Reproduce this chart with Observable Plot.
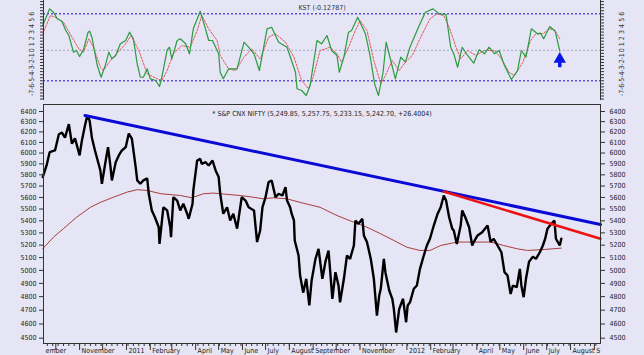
<!DOCTYPE html>
<html><head><meta charset="utf-8">
<script src="https://cdn.jsdelivr.net/npm/d3@7"></script>
<script src="https://cdn.jsdelivr.net/npm/@observablehq/plot@0.6"></script>
<style>
body{margin:0;background:#e5e5f6;}
#chart{width:644px;height:355px;background:#e5e5f6;overflow:hidden}
svg{display:block}
</style></head><body><div id="chart"></div>
<script>
// ---- KST panel data ----
const kstDates = ["2010-09-14","2010-09-23","2010-09-28","2010-10-03","2010-10-09","2010-10-14","2010-10-18","2010-10-24","2010-10-28","2010-11-01","2010-11-06","2010-11-12","2010-11-14","2010-11-17","2010-11-24","2010-11-29","2010-12-05","2010-12-09","2010-12-13","2010-12-18","2010-12-24","2010-12-31","2011-01-05","2011-01-10","2011-01-15","2011-01-19","2011-01-23","2011-01-28","2011-02-01","2011-02-08","2011-02-13","2011-02-16","2011-02-23","2011-02-26","2011-03-01","2011-03-08","2011-03-12","2011-03-19","2011-03-24","2011-03-29","2011-04-07","2011-04-12","2011-04-18","2011-04-23","2011-05-01","2011-05-03","2011-05-07","2011-05-14","2011-05-25","2011-06-03","2011-06-09","2011-06-16","2011-06-23","2011-07-03","2011-07-09","2011-07-18","2011-07-29","2011-08-09","2011-08-11","2011-08-17","2011-08-23","2011-08-28","2011-09-06","2011-09-12","2011-09-19","2011-09-25","2011-10-02","2011-10-05","2011-10-11","2011-10-17","2011-10-21","2011-10-29","2011-11-01","2011-11-08","2011-11-14","2011-11-20","2011-11-25","2011-12-01","2011-12-05","2011-12-11","2011-12-17","2011-12-24","2011-12-30","2012-01-05","2012-01-16","2012-01-25","2012-02-04","2012-02-12","2012-02-21","2012-02-27","2012-03-02","2012-03-07","2012-03-13","2012-03-20","2012-03-28","2012-04-04","2012-04-11","2012-04-17","2012-04-24","2012-04-30","2012-05-07","2012-05-16","2012-05-24","2012-05-29","2012-06-04","2012-06-11","2012-06-19","2012-06-23","2012-06-27","2012-07-05","2012-07-12","2012-07-18"];
const kstValues = [4.07,6.81,6.26,5.17,4.78,3.25,2.43,-0.31,-0.03,-1.02,0.08,2.97,3.14,2.15,-2.50,-4.42,-2.22,-0.31,-1.40,-0.85,1.07,1.61,2.97,1.89,-2.22,-4.42,-4.42,-3.04,-4.68,-4.96,-5.94,-4.42,0.08,0.51,-1.40,1.61,1.89,1.07,-0.57,3.53,6.42,4.35,1.61,1.61,-0.57,-3.60,-4.68,-3.04,-3.04,1.33,0.51,-0.57,-3.32,3.53,3.79,1.33,0.51,-3.60,-6.32,-6.60,-7.42,-5.78,1.61,1.07,2.43,-0.03,-0.85,-3.60,-1.13,2.97,3.25,5.44,4.61,2.71,-0.85,-5.50,-7.42,-3.60,1.33,-1.67,-4.68,-1.13,-1.95,0.51,3.79,6.26,6.81,5.99,5.88,0.51,-0.57,-2.78,0.51,-0.85,-2.12,0.08,-0.57,0.51,-0.57,-0.03,-2.50,-4.79,-3.32,-0.03,-1.13,3.53,2.71,2.81,1.89,3.91,3.14,-0.13];
const signalDates = ["2010-09-14","2010-09-24","2010-09-30","2010-10-11","2010-10-22","2010-10-31","2010-11-06","2010-11-13","2010-11-19","2010-11-28","2010-12-02","2010-12-11","2010-12-19","2010-12-31","2011-01-07","2011-01-17","2011-01-28","2011-02-10","2011-02-16","2011-02-23","2011-03-03","2011-03-14","2011-03-25","2011-04-03","2011-04-09","2011-04-18","2011-04-29","2011-05-03","2011-05-14","2011-05-23","2011-06-03","2011-06-13","2011-06-24","2011-07-05","2011-07-14","2011-07-27","2011-08-07","2011-08-17","2011-08-26","2011-09-01","2011-09-10","2011-09-23","2011-10-02","2011-10-08","2011-10-17","2011-10-26","2011-11-01","2011-11-10","2011-11-19","2011-11-28","2011-12-04","2011-12-13","2011-12-22","2011-12-30","2012-01-08","2012-01-18","2012-01-31","2012-02-09","2012-02-18","2012-02-25","2012-03-05","2012-03-11","2012-03-20","2012-03-31","2012-04-11","2012-04-24","2012-05-03","2012-05-13","2012-05-20","2012-05-31","2012-06-10","2012-06-17","2012-06-26","2012-07-04","2012-07-11","2012-07-18"];
const signalValues = [2.71,5.71,5.44,4.61,2.15,0.25,-0.31,1.89,0.51,-2.78,-3.32,-1.67,-0.57,1.07,2.43,-0.03,-3.86,-4.68,-4.96,-3.32,-0.57,0.79,0.51,3.25,5.71,3.53,1.61,-0.85,-3.04,-3.32,-1.13,0.25,-1.40,2.15,2.71,1.33,-1.13,-4.96,-6.32,-4.42,-0.03,0.51,-0.57,-1.95,0.51,3.25,4.89,3.25,-1.67,-5.50,-4.14,-1.67,-3.32,-1.95,-0.85,1.89,5.17,5.99,5.71,3.79,0.51,-1.40,-0.03,-0.85,-0.03,-0.03,-1.40,-3.60,-4.14,-1.95,1.61,2.71,2.71,3.53,3.37,1.89];
const kstLevels = [6, -5];
const kstTicks = [-7,-6,-5,-4,-3,-2,-1,0,1,2,3,4,5,6];
const arrowDate = ["2012-07-18"];
const arrowTail = [-2.85];
const arrowNeck = [-1.75];
const arrowHead = [-1.45];
const kstTitle = "KST (-0.12787)";

// ---- Price panel data ----
const priceDates = ["2010-09-14","2010-09-19","2010-09-23","2010-09-30","2010-10-05","2010-10-09","2010-10-13","2010-10-18","2010-10-22","2010-10-26","2010-11-01","2010-11-04","2010-11-08","2010-11-11","2010-11-14","2010-11-17","2010-11-21","2010-11-28","2010-11-30","2010-12-05","2010-12-08","2010-12-11","2010-12-13","2010-12-18","2010-12-22","2010-12-26","2010-12-31","2011-01-04","2011-01-08","2011-01-13","2011-01-15","2011-01-19","2011-01-23","2011-01-28","2011-01-30","2011-02-03","2011-02-07","2011-02-12","2011-02-13","2011-02-18","2011-02-23","2011-02-27","2011-02-28","2011-03-03","2011-03-08","2011-03-12","2011-03-16","2011-03-21","2011-03-23","2011-03-28","2011-03-29","2011-04-03","2011-04-07","2011-04-09","2011-04-14","2011-04-18","2011-04-23","2011-04-27","2011-05-01","2011-05-03","2011-05-07","2011-05-12","2011-05-16","2011-05-20","2011-05-25","2011-05-31","2011-06-05","2011-06-09","2011-06-16","2011-06-20","2011-06-24","2011-06-27","2011-07-01","2011-07-05","2011-07-09","2011-07-14","2011-07-18","2011-07-23","2011-07-27","2011-07-29","2011-08-02","2011-08-04","2011-08-07","2011-08-08","2011-08-13","2011-08-15","2011-08-19","2011-08-23","2011-08-27","2011-08-30","2011-09-04","2011-09-08","2011-09-13","2011-09-17","2011-09-21","2011-09-26","2011-09-30","2011-10-04","2011-10-06","2011-10-11","2011-10-15","2011-10-19","2011-10-24","2011-10-26","2011-10-30","2011-11-04","2011-11-06","2011-11-10","2011-11-15","2011-11-19","2011-11-23","2011-11-26","2011-11-28","2011-12-02","2011-12-04","2011-12-09","2011-12-13","2011-12-15","2011-12-18","2011-12-22","2011-12-27","2011-12-31","2012-01-02","2012-01-05","2012-01-10","2012-01-14","2012-01-18","2012-01-23","2012-01-27","2012-01-31","2012-02-05","2012-02-10","2012-02-14","2012-02-18","2012-02-21","2012-02-25","2012-02-29","2012-03-02","2012-03-06","2012-03-11","2012-03-13","2012-03-17","2012-03-22","2012-03-26","2012-03-28","2012-04-02","2012-04-08","2012-04-15","2012-04-19","2012-04-23","2012-04-28","2012-05-03","2012-05-07","2012-05-11","2012-05-15","2012-05-18","2012-05-23","2012-05-27","2012-05-29","2012-06-01","2012-06-04","2012-06-08","2012-06-13","2012-06-17","2012-06-22","2012-06-26","2012-06-29","2012-07-02","2012-07-07","2012-07-11","2012-07-13","2012-07-18","2012-07-20"];
const priceValues = [5780,5885,6008,6024,6178,6193,6145,6276,6087,6138,5978,6119,6262,6360,6311,6145,6024,5840,5720,5931,6055,5885,5750,5915,5978,6024,6055,6184,6135,5870,5750,5720,5750,5768,5632,5488,5430,5347,5210,5515,5488,5347,5265,5602,5573,5488,5545,5460,5417,5545,5661,5931,5946,5900,5915,5885,5931,5840,5780,5632,5460,5515,5403,5460,5335,5602,5573,5515,5488,5225,5320,5515,5602,5735,5750,5602,5632,5617,5690,5573,5515,5460,5403,5238,5117,4960,4830,4935,4735,4922,5090,5170,4935,5068,5157,4784,4986,4884,4758,4935,5117,5090,5197,5403,5375,5417,5279,5225,5090,4935,4661,4809,4859,5090,4986,4846,4784,4710,4540,4710,4784,4613,4735,4758,4859,4884,5012,5117,5197,5252,5361,5460,5515,5617,5573,5430,5335,5320,5210,5361,5488,5430,5347,5197,5225,5279,5306,5361,5225,5252,5197,5143,4986,4960,4820,4884,4871,5012,4884,4796,4935,5068,5108,5090,5143,5197,5252,5335,5375,5403,5252,5197,5252];
const maDates = ["2010-09-14","2010-09-28","2010-10-11","2010-10-28","2010-11-15","2010-11-28","2010-12-15","2011-01-02","2011-01-15","2011-01-28","2011-02-15","2011-03-12","2011-03-27","2011-04-11","2011-04-24","2011-05-03","2011-05-29","2011-06-15","2011-06-28","2011-07-11","2011-07-29","2011-08-15","2011-09-10","2011-10-02","2011-10-24","2011-11-10","2011-11-28","2011-12-15","2012-01-01","2012-01-18","2012-01-31","2012-02-14","2012-03-06","2012-03-28","2012-04-19","2012-05-06","2012-05-24","2012-06-06","2012-06-28","2012-07-20"];
const maValues = [5171,5265,5335,5430,5515,5557,5602,5647,5668,5661,5632,5617,5597,5632,5638,5632,5617,5602,5588,5597,5588,5557,5515,5445,5388,5347,5292,5238,5183,5157,5157,5197,5225,5225,5225,5197,5170,5157,5165,5176];
const blueTrendDates = ["2010-11-08","2012-09-09"];
const blueTrendValues = [6360,5370];
const redTrendDates = ["2012-02-18","2012-09-09"];
const redTrendValues = [5652,5252];
const priceTicks = [4500,4600,4700,4800,4900,5000,5100,5200,5300,5400,5500,5600,5700,5800,5900,6000,6100,6200,6300,6400];
const priceTitle = "* S&P CNX NIFTY (5,249.85, 5,257.75, 5,233.15, 5,242.70, +26.4004)";
const monthTickDates = ["2010-10-01","2010-11-01","2010-12-01","2011-01-01","2011-02-01","2011-03-01","2011-04-01","2011-05-01","2011-06-01","2011-07-01","2011-08-01","2011-09-01","2011-10-01","2011-11-01","2011-12-01","2012-01-01","2012-02-01","2012-03-01","2012-04-01","2012-05-01","2012-06-01","2012-07-01","2012-08-01","2012-09-01"];
const monthLabelDates = ["2010-09-15","2010-11-01","2011-01-01","2011-02-01","2011-04-01","2011-05-01","2011-06-01","2011-07-01","2011-08-01","2011-09-01","2011-11-01","2012-01-01","2012-02-01","2012-04-01","2012-05-01","2012-06-01","2012-07-01","2012-08-01","2012-09-01"];
const monthLabelTexts = ["ember","November","2011","February","April","May","June","July","August","September","November","2012","February","April","May","June","July","August","S"];
const xStart = "2010-09-15", xEnd = "2012-09-09";

// ---- build ----
const F = "'Liberation Sans Narrow','DejaVu Sans Condensed','Liberation Sans',Arial,sans-serif";
const pts = (ds, vs) => ds.map((d, i) => ({date: new Date(d), value: vs[i]}));
const xDomain = [new Date(xStart), new Date(xEnd)];
const kst = pts(kstDates, kstValues);
const signal = pts(signalDates, signalValues);
const arrow = arrowDate.map((d, i) => ({date: new Date(d), tail: arrowTail[i], neck: arrowNeck[i], head: arrowHead[i]}));
const kstMinor = d3.range(-8, 8.01, 0.5);

const topChart = Plot.plot({
  width: 644, height: 100, marginLeft: 43, marginRight: 44, marginTop: 0, marginBottom: 0,
  style: {background: "transparent", fontFamily: F, fontSize: "7px", color: "#222", overflow: "visible"},
  x: {type: "utc", domain: xDomain, axis: null},
  y: {domain: [-8.24, 8.18], axis: null},
  marks: [
    Plot.ruleY([0], {stroke: "#a9a9c4", strokeDasharray: "2,2"}),
    Plot.ruleY(kstLevels, {stroke: "#5a52d8", strokeDasharray: "2,2", strokeWidth: 1.5}),
    Plot.line(signal, {x: "date", y: "value", stroke: "#e05858", strokeDasharray: "2,1.5", strokeWidth: 1}),
    Plot.line(kst, {x: "date", y: "value", stroke: "#2c9a3f", strokeWidth: 1.2}),
    Plot.ruleX(arrow, {x: "date", y1: "tail", y2: "neck", stroke: "#0a14e8", strokeWidth: 3.5}),
    Plot.dot(arrow, {x: "date", y: "head", symbol: "triangle", r: 4.6, fill: "#0a14e8", stroke: "none"}),
    Plot.axisY(kstMinor, {anchor: "left", tickSize: 3, tickFormat: () => "", label: null, stroke: "#333"}),
    Plot.axisY(kstMinor, {anchor: "right", tickSize: 3, tickFormat: () => "", label: null, stroke: "#333"}),
    Plot.ruleX(xDomain, {stroke: "#333"}),
    Plot.text(kstTicks, {y: d => d, text: d => String(d), frameAnchor: "left", dx: -12, rotate: -90, textAnchor: "middle", lineAnchor: "middle", fill: "#333", fontSize: 7}),
    Plot.text(kstTicks, {y: d => d, text: d => String(d), frameAnchor: "right", dx: 21, rotate: -90, textAnchor: "middle", lineAnchor: "middle", fill: "#333", fontSize: 7}),
    Plot.text([kstTitle], {frameAnchor: "top", dy: 5, text: d => d, fill: "#333", fontSize: 7})
  ]
});

const price = pts(priceDates, priceValues);
const ma = pts(maDates, maValues);
const blueTrend = pts(blueTrendDates, blueTrendValues);
const redTrend = pts(redTrendDates, redTrendValues);
const labels = monthLabelDates.map((d, i) => ({date: new Date(d), text: monthLabelTexts[i]}));
const weekTicks = d3.utcMonday.range(xDomain[0], xDomain[1]);

const bottomChart = Plot.plot({
  width: 644, height: 255, marginLeft: 43, marginRight: 44, marginTop: 4, marginBottom: 12,
  style: {background: "transparent", fontFamily: F, fontSize: "7px", color: "#222", overflow: "visible"},
  x: {type: "utc", domain: xDomain, axis: null},
  y: {type: "log", domain: [4463, 6470], axis: null},
  marks: [
    Plot.line(ma, {x: "date", y: "value", stroke: "#a83c3c", strokeWidth: 1}),
    Plot.line(price, {x: "date", y: "value", stroke: "#000", strokeWidth: 2.4, strokeLinejoin: "bevel"}),
    Plot.line(blueTrend, {x: "date", y: "value", stroke: "#0a0ad6", strokeWidth: 3}),
    Plot.line(redTrend, {x: "date", y: "value", stroke: "#ee1111", strokeWidth: 2.5}),
    Plot.frame({stroke: "#333"}),
    Plot.axisY(priceTicks, {anchor: "left", tickSize: 4, tickPadding: 3, label: null, tickFormat: d => String(d), fontSize: 7, stroke: "#333"}),
    Plot.axisY(priceTicks, {anchor: "right", tickSize: 4, tickPadding: 5, label: null, tickFormat: d => String(d), fontSize: 7, stroke: "#333"}),
    Plot.axisX(weekTicks, {anchor: "bottom", tickSize: 3, tickFormat: () => "", label: null, stroke: "#333"}),
    Plot.axisX(monthTickDates.map(d => new Date(d)), {anchor: "bottom", tickSize: 7, tickFormat: () => "", label: null, stroke: "#333"}),
    Plot.text(labels, {x: "date", text: "text", frameAnchor: "bottom", dy: 7, dx: 2, textAnchor: "start", lineAnchor: "middle", fill: "#222", fontSize: 7}),
    Plot.text([priceTitle], {frameAnchor: "top", dy: 7, text: d => d, fill: "#222", fontSize: 7})
  ]
});

const root = document.getElementById("chart");
root.appendChild(topChart);
root.appendChild(bottomChart);
</script>
</body></html>
